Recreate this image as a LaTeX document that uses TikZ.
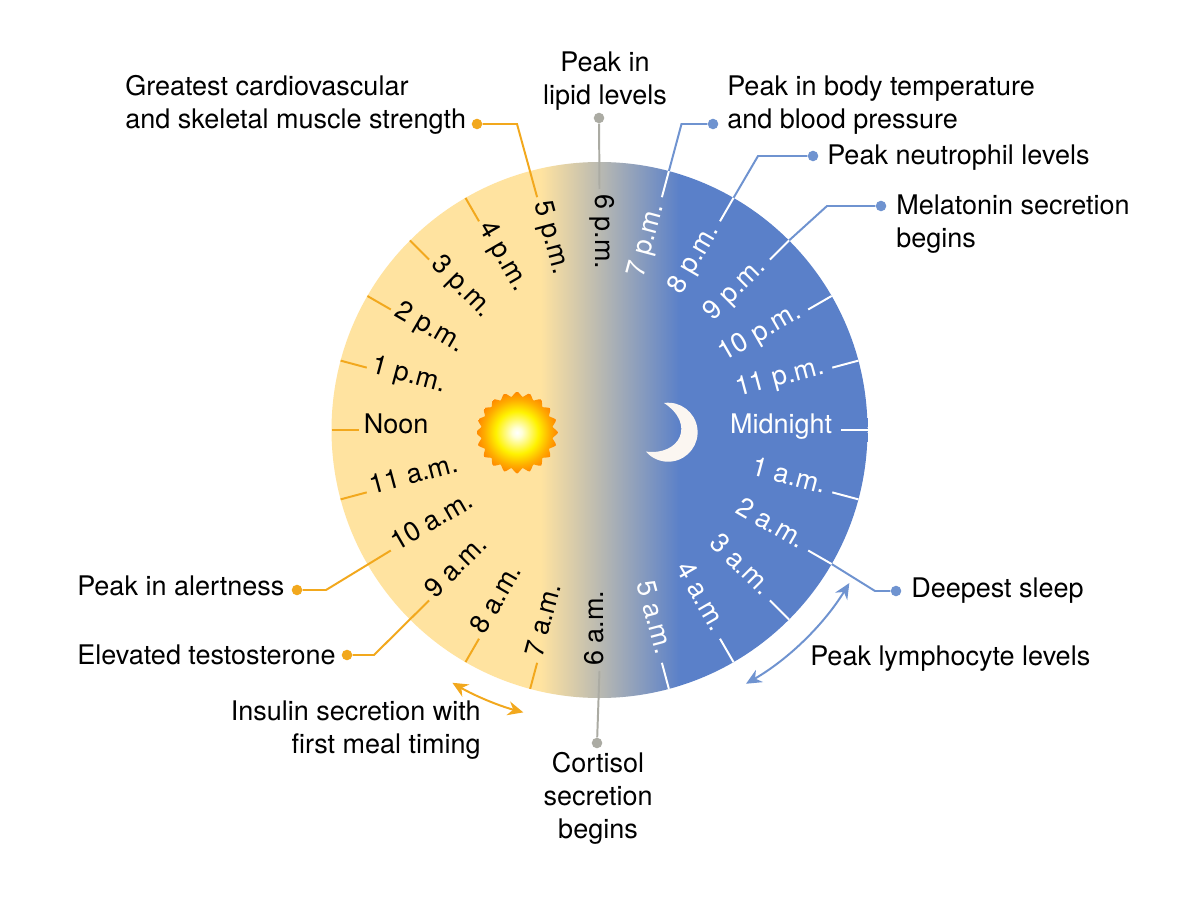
\documentclass[tikz,border=0pt]{standalone}
\usepackage{fontspec}
\setmainfont{TeX Gyre Heros}
\usetikzlibrary{arrows.meta}
\definecolor{daycol}{HTML}{FFE3A0}
\definecolor{nightcol}{HTML}{5A80C9}
\definecolor{orangeline}{HTML}{F2A81D}
\definecolor{blueline}{HTML}{6F93D0}
\definecolor{greyline}{HTML}{ABABA3}
\definecolor{mooncol}{HTML}{FBF6F1}
\pgfdeclarehorizontalshading{daynight}{100bp}{color(0bp)=(daycol); color(44.5bp)=(daycol); color(57.5bp)=(nightcol); color(100bp)=(nightcol)}
\pgfdeclareradialshading{sunglow}{\pgfpointorigin}{color(0bp)=(white); color(3bp)=(white!85!yellow); color(13bp)=(yellow!90!orange); color(20bp)=(orange!65!yellow); color(25bp)=(orange!95!yellow)}
\tikzset{
  txt/.style={font=\fontsize{19.2}{23.5}\selectfont, inner sep=0pt},
  hourtxt/.style={txt, text=#1},
  hourtick/.style={line width=1.4pt, draw=#1},
  callout/.style={line width=1.4pt, draw=#1},
  dotmark/.style={circle, fill=#1, inner sep=0pt, minimum size=7.5pt},
  twoway/.style={line width=1.4pt, draw=#1, {Stealth[length=11pt,width=10pt]}-{Stealth[length=11pt,width=10pt]}},
}
\begin{document}
\begin{tikzpicture}[x=0.025cm,y=0.025cm]
  \useasboundingbox (0,0) rectangle (1200,896);
  \fill[white] (0,0) rectangle (1200,896);

  % Disc
  \shade[shading=daynight] (599.5,466) circle (268);

  \begin{scope}[shift={(599.5,466)}]
    % Day hours
    \foreach \ang/\hour in {90/6 p.m.,105/5 p.m.,120/4 p.m.,135/3 p.m.,150/2 p.m.,165/1 p.m.,180/Noon,195/11 a.m.,210/10 a.m.,225/9 a.m.,240/8 a.m.,255/7 a.m.,270/6 a.m.}{
      \node[hourtxt=black, rotate=\ang-180, anchor=mid west] (hour\ang) at (\ang:236) {\hour};
      \coordinate (in\ang) at (\ang:241);
      \coordinate (rim\ang) at (\ang:268);
    }
    % Night hours
    \foreach \ang/\hour in {75/7 p.m.,60/8 p.m.,45/9 p.m.,30/10 p.m.,15/11 p.m.,0/Midnight,-15/1 a.m.,-30/2 a.m.,-45/3 a.m.,-60/4 a.m.,-75/5 a.m.}{
      \node[hourtxt=white, rotate=\ang, anchor=mid east] (hour\ang) at (\ang:233) {\hour};
      \coordinate (in\ang) at (\ang:241);
      \coordinate (rim\ang) at (\ang:268);
    }
    % Plain ticks
    \foreach \ang in {120,135,150,165,180,195,240,255}
      \draw[hourtick=orangeline] (rim\ang) -- (in\ang);
    \foreach \ang in {30,15,0,-15,-45,-60,-75}
      \draw[hourtick=white] (rim\ang) -- (in\ang);
  \end{scope}

  % Sun
  \begin{scope}[shift={(517,463.5)}]
    \shade[shading=sunglow] plot[domain=0:355.5, samples=80, smooth cycle] (\x:{38.5+2.5*cos(20*\x)});
  \end{scope}

  % Moon
  \fill[mooncol] (664,493) arc[start angle=98, end angle=-139, radius=29.5]
    .. controls (680,440) and (696,472) .. (664,493);

  % Labels
  \node[txt, align=left, anchor=west] (muscle) at (125,791) {Greatest cardiovascular\\and skeletal muscle strength};
  \node[txt, align=center, anchor=center] (lipid) at (605,815) {Peak in\\lipid levels};
  \node[txt, align=left, anchor=west] (temp) at (727,791) {Peak in body temperature\\and blood pressure};
  \node[txt, anchor=west] (neutro) at (827,738) {Peak neutrophil levels};
  \node[txt, align=left, anchor=west] (melatonin) at (896,672) {Melatonin secretion\\begins};
  \node[txt, anchor=west] (sleep) at (911,305) {Deepest sleep};
  \node[txt, anchor=west] (lympho) at (810,237) {Peak lymphocyte levels};
  \node[txt, anchor=west] (alert) at (77,310) {Peak in alertness};
  \node[txt, anchor=west] (testo) at (77,241) {Elevated testosterone};
  \node[txt, align=right, anchor=east] (insulin) at (481,166) {Insulin secretion with\\first meal timing\hspace{5pt}};
  \node[txt, align=center, anchor=center] (cortisol) at (598,98) {Cortisol\\secretion\\begins};

  % Dots
  \node[dotmark=orangeline] (dotmuscle) at (477,772) {};
  \node[dotmark=orangeline] (dotalert) at (297,306) {};
  \node[dotmark=orangeline] (dottesto) at (347,241) {};
  \node[dotmark=greyline] (dotlipid) at (599,778) {};
  \node[dotmark=greyline] (dotcortisol) at (597,153) {};
  \node[dotmark=blueline] (dottemp) at (713,772) {};
  \node[dotmark=blueline] (dotneutro) at (813,740) {};
  \node[dotmark=blueline] (dotmelatonin) at (881,690) {};
  \node[dotmark=blueline] (dotsleep) at (896,305) {};

  % Elbows
  \coordinate (elbowmuscle) at (517,772);
  \coordinate (elbowalert) at (326,306);
  \coordinate (elbowtesto) at (374,241);
  \coordinate (elbowtemp) at (681.5,772);
  \coordinate (elbowneutro) at (758,740);
  \coordinate (elbowmelatonin) at (827,690);
  \coordinate (elbowsleep) at (875,305);

  % Callouts
  \draw[callout=orangeline] (dotmuscle) -- (elbowmuscle) -- (in105);
  \draw[callout=orangeline] (dotalert) -- (elbowalert) -- (in210);
  \draw[callout=orangeline] (dottesto) -- (elbowtesto) -- (in225);
  \draw[callout=greyline] (dotlipid) -- (in90);
  \draw[callout=greyline] (dotcortisol) -- (in270);
  \draw[callout=blueline] (dottemp) -- (elbowtemp) -- (rim75);
  \draw[callout=blueline] (dotneutro) -- (elbowneutro) -- (rim60);
  \draw[callout=blueline] (dotmelatonin) -- (elbowmelatonin) -- (rim45);
  \draw[callout=blueline] (dotsleep) -- (elbowsleep) -- (rim-30);
  \draw[hourtick=white] (rim75) -- (in75);
  \draw[hourtick=white] (rim60) -- (in60);
  \draw[hourtick=white] (rim45) -- (in45);
  \draw[hourtick=white] (rim-30) -- (in-30);

  % Double arrows
  \draw[twoway=orangeline] (599.5,466) ++(239.8:292.5) arc[start angle=239.8, end angle=254.9, radius=292.5];
  \draw[twoway=blueline] (599.5,466) ++(-31.5:293) arc[start angle=-31.5, end angle=-60, radius=293];
\end{tikzpicture}
\end{document}
